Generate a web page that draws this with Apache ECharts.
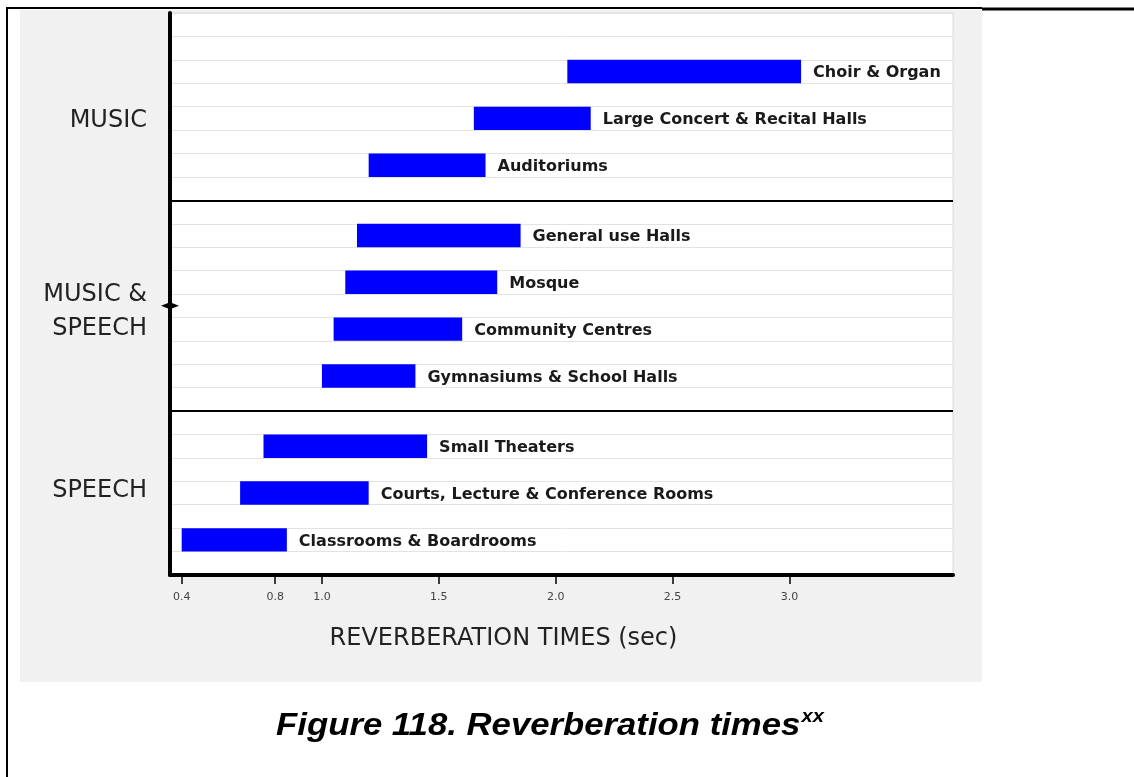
<!DOCTYPE html>
<html>
<head>
<meta charset="utf-8">
<title>Reverberation times</title>
<script src="https://cdn.jsdelivr.net/npm/echarts@6/dist/echarts.min.js"></script>
<style>
  html, body { margin: 0; padding: 0; background: #ffffff; }
  #chart { width: 1134px; height: 777px; }
</style>
</head>
<body>
<div id="chart"></div>
<script>
// Recommended reverberation time ranges (seconds) by room type
const rooms = [
  'Choir & Organ',
  'Large Concert & Recital Halls',
  'Auditoriums',
  'General use Halls',
  'Mosque',
  'Community Centres',
  'Gymnasiums & School Halls',
  'Small Theaters',
  'Courts, Lecture & Conference Rooms',
  'Classrooms & Boardrooms'
];
const rtLow  = [2.05, 1.65, 1.20, 1.15, 1.10, 1.05, 1.00, 0.75, 0.65, 0.40];
const rtHigh = [3.05, 2.15, 1.70, 1.85, 1.75, 1.60, 1.40, 1.45, 1.20, 0.85];
// row each room sits in (top to bottom, 24 rows in total)
const roomRow = [2, 4, 6, 9, 11, 13, 15, 18, 20, 22];
const ROWS = 24;

// grouping of rows into usage sections
const sections = ['MUSIC', 'MUSIC &\nSPEECH', 'SPEECH'];
const sectionLabelAt = [4.6, 12.75, 20.4];
const sectionBreaks = [8, 17];
const sectionMarkAt = 12.5;

const xTicks = [0.4, 0.8, 1.0, 1.5, 2.0, 2.5, 3.0];

// expand to one entry per row
const rowNames = Array.from({ length: ROWS }, (_, i) => 'row' + i);
const rowRoom = Array(ROWS).fill(null);
const baseData = Array(ROWS).fill('-');
const spanData = Array(ROWS).fill('-');
roomRow.forEach((r, k) => {
  rowRoom[r] = rooms[k];
  baseData[r] = rtLow[k];
  spanData[r] = +(rtHigh[k] - rtLow[k]).toFixed(3);
});

const chart = echarts.init(document.getElementById('chart'), null, { renderer: 'canvas' });

const option = {
  backgroundColor: '#ffffff',
  animation: false,
  graphic: [
    { type: 'rect', z: -10, shape: { x: 20, y: 10, width: 962, height: 672 }, style: { fill: '#f1f1f1' } },
    { type: 'line', z: 10, shape: { x1: 7, y1: 8, x2: 982, y2: 8 }, style: { stroke: '#000', lineWidth: 2 } },
    { type: 'line', z: 10, shape: { x1: 982, y1: 9, x2: 1134, y2: 9 }, style: { stroke: '#000', lineWidth: 3 } },
    { type: 'line', z: 10, shape: { x1: 7, y1: 7, x2: 7, y2: 777 }, style: { stroke: '#000', lineWidth: 2 } },
    {
      type: 'text', z: 10, x: 550, y: 726, scaleX: 1.12,
      style: {
        text: '{a|Figure 118. Reverberation times}{s|xx}',
        align: 'center', verticalAlign: 'middle',
        rich: {
          a: { fontFamily: 'Liberation Sans', fontWeight: 'bold', fontStyle: 'italic', fontSize: 31, lineHeight: 36, fill: '#000' },
          s: { fontFamily: 'Liberation Sans', fontWeight: 'bold', fontStyle: 'italic', fontSize: 18, lineHeight: 36, verticalAlign: 'top', fill: '#000', padding: [0, 0, 0, 1] }
        }
      }
    }
  ],
  grid: {
    left: 170, right: 181, top: 13, bottom: 202,
    show: true, backgroundColor: '#ffffff', borderColor: '#d9d9d9', borderWidth: 1
  },
  xAxis: {
    type: 'value', min: 0.35, max: 3.7,
    axisLine: { show: true, onZero: false, lineStyle: { color: '#000', width: 4 } },
    axisTick: { show: true, customValues: xTicks, length: 9, lineStyle: { color: '#000', width: 1.5 } },
    axisLabel: {
      customValues: xTicks, formatter: v => v.toFixed(1), margin: 17,
      fontFamily: 'DejaVu Sans', fontSize: 11, color: '#444'
    },
    splitLine: { show: false },
    name: 'REVERBERATION TIMES (sec)', nameLocation: 'middle', nameGap: 52,
    nameTextStyle: { fontFamily: 'DejaVu Sans', fontSize: 24, color: '#222', padding: [0, 116, 0, 0] }
  },
  yAxis: [
    {
      type: 'category', data: rowNames, inverse: true,
      axisLine: { show: true, onZero: false, lineStyle: { color: '#000', width: 4 } },
      axisTick: { show: false },
      axisLabel: { show: false },
      splitLine: { show: true, lineStyle: { color: '#e3e3e3', width: 1 } }
    },
    {
      type: 'value', min: 0, max: ROWS, inverse: true, position: 'left',
      axisLine: { show: false }, axisTick: { show: false }, splitLine: { show: false },
      axisLabel: {
        customValues: sectionLabelAt,
        formatter: (v, i) => sections[sectionLabelAt.indexOf(v)] || sections[i],
        margin: 23, fontFamily: 'DejaVu Sans', fontSize: 24, lineHeight: 34, color: '#222'
      }
    }
  ],
  series: [
    {
      type: 'bar', stack: 'rt', yAxisIndex: 0, data: baseData, silent: true,
      barCategoryGap: '0%', itemStyle: { color: 'transparent' }
    },
    {
      type: 'bar', stack: 'rt', yAxisIndex: 0, data: spanData,
      barCategoryGap: '0%', itemStyle: { color: '#0000ff' },
      label: {
        show: true, position: 'right', distance: 12, offset: [0, 1.5],
        formatter: p => rowRoom[p.dataIndex] || '',
        fontFamily: 'DejaVu Sans', fontWeight: 'bold', fontSize: 16, color: '#1a1a1a'
      }
    },
    {
      type: 'line', yAxisIndex: 1, data: [], silent: true,
      markLine: {
        silent: true, symbol: 'none', label: { show: false },
        lineStyle: { color: '#000', width: 2, type: 'solid' },
        data: sectionBreaks.map(b => ({ yAxis: b }))
      },
      markPoint: {
        silent: true, symbol: 'diamond', symbolSize: [18, 7],
        itemStyle: { color: '#000' }, label: { show: false },
        data: [{ coord: [0.35, sectionMarkAt] }]
      }
    }
  ]
};

chart.setOption(option);
</script>
</body>
</html>
